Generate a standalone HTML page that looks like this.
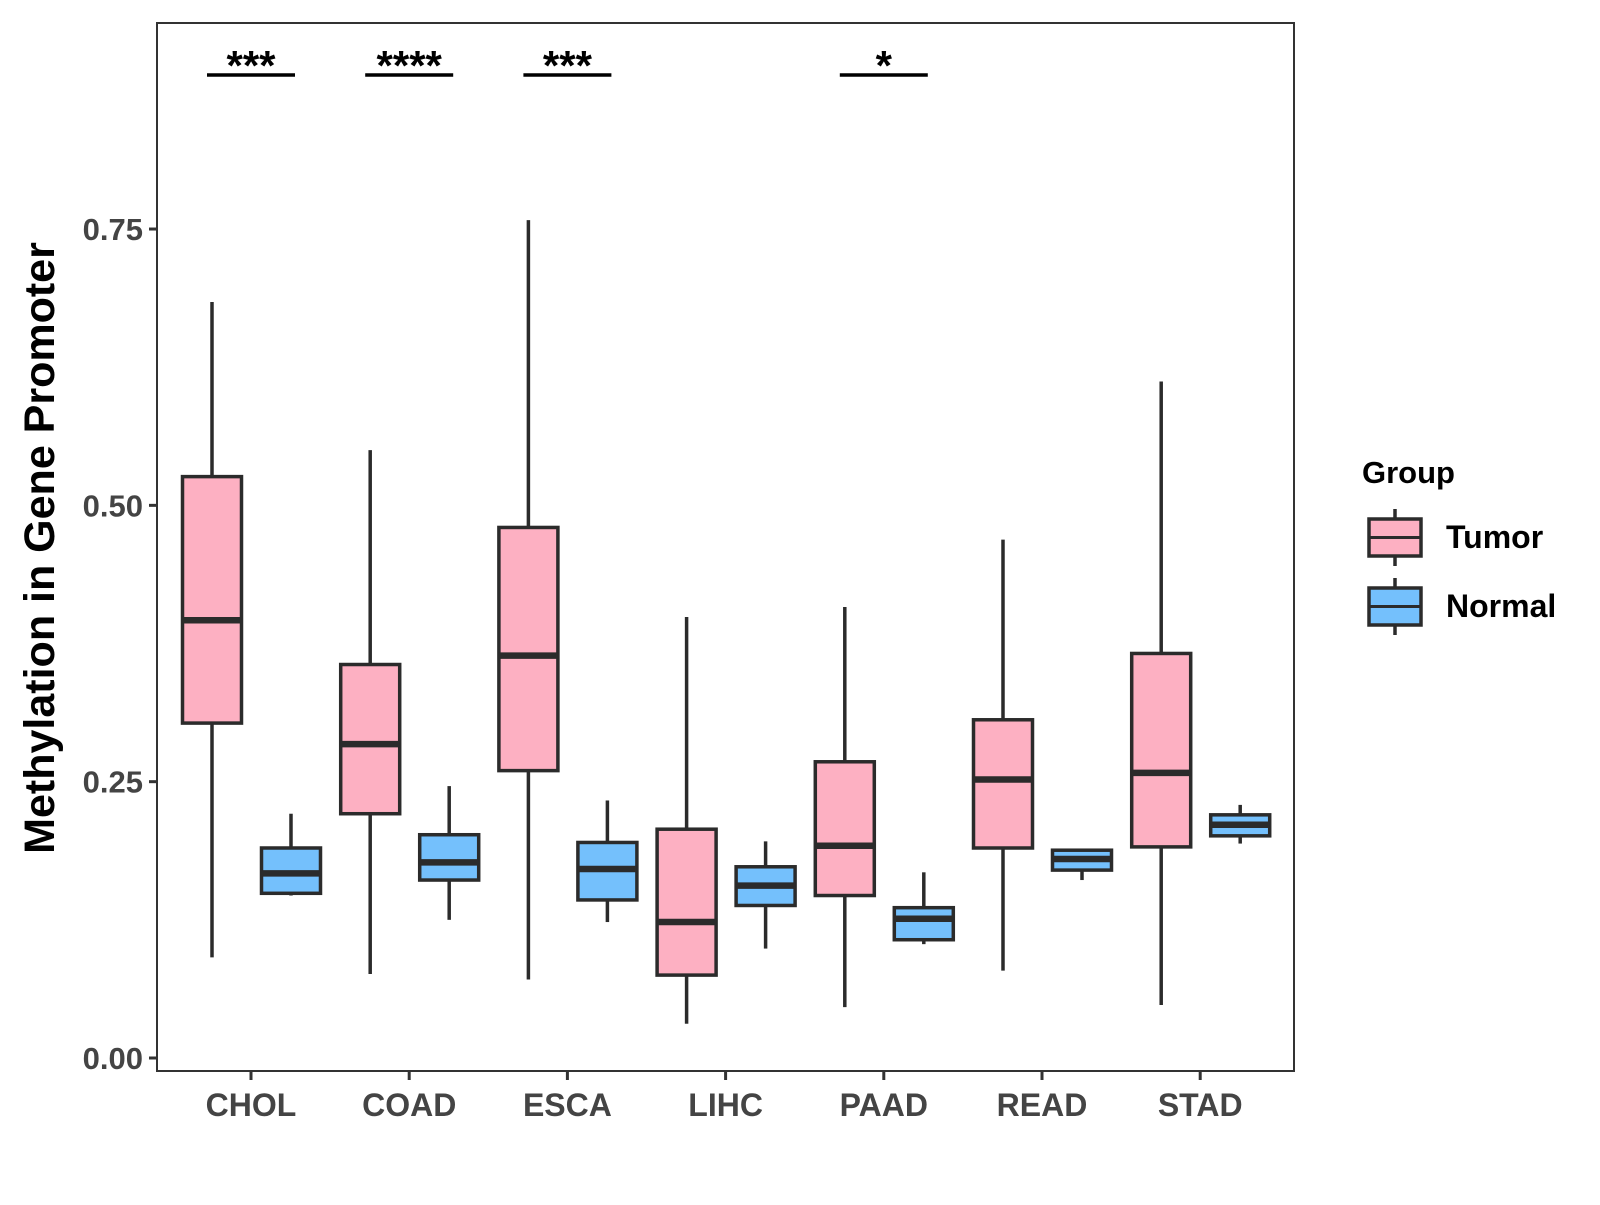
<!DOCTYPE html>
<html><head><meta charset="utf-8"><style>
body{margin:0;background:#fff;width:1600px;height:1200px;overflow:hidden}
svg{font-family:"Liberation Sans",sans-serif;font-weight:bold}
</style></head><body>
<svg id="chart" width="1600" height="1200"></svg>
<script>
const categories=["CHOL","COAD","ESCA","LIHC","PAAD","READ","STAD"];
// [low, q1, median, q3, high]
const tumorStats=[[0.091,0.303,0.396,0.526,0.684],[0.076,0.221,0.284,0.356,0.550],[0.071,0.260,0.364,0.480,0.758],[0.031,0.075,0.123,0.207,0.399],[0.046,0.147,0.192,0.268,0.408],[0.079,0.190,0.252,0.306,0.469],[0.048,0.191,0.258,0.366,0.612]];
const normalStats=[[0.147,0.149,0.167,0.190,0.221],[0.125,0.161,0.177,0.202,0.246],[0.123,0.143,0.171,0.195,0.233],[0.099,0.138,0.156,0.173,0.196],[0.103,0.107,0.126,0.136,0.168],[0.161,0.170,0.180,0.188,0.189],[0.194,0.201,0.211,0.220,0.229]];
const yTicks=[0,0.25,0.5,0.75];
const yTickLabels=["0.00","0.25","0.50","0.75"];
const sigCats=["CHOL","COAD","ESCA","PAAD"];
const sigLabels=["***","****","***","*"];

const NS="http://www.w3.org/2000/svg";
const svg=document.getElementById('chart');
const L=157,R=1294,T=23,B=1071;
const y=v=>1058-v*1105.3;
const x=i=>251+i*158.2;
function mk(t,a,p){const e=document.createElementNS(NS,t);for(const k in a)e.setAttribute(k,a[k]);(p||svg).appendChild(e);return e;}

const panel=mk('rect',{x:L,y:T,width:R-L,height:B-T,fill:'#fff',stroke:'#333',"stroke-width":2});



yTicks.forEach((v,i)=>{
  const tk=mk('line',{x1:L-8,x2:L,y1:y(v),y2:y(v),stroke:'#333',"stroke-width":3});
  
  
  const t=mk('text',{x:L-14,y:y(v)+11,"text-anchor":"end","font-size":31,fill:'#444'});
  t.textContent=yTickLabels[i];
  
  
});
categories.forEach((c,i)=>{
  const tk=mk('line',{x1:x(i),x2:x(i),y1:B,y2:B+9,stroke:'#333',"stroke-width":3});
  
  
  const t=mk('text',{x:x(i),y:1116,"text-anchor":"middle","font-size":32,fill:'#444'});
  t.textContent=c;
  
  
});
const yt=mk('text',{x:0,y:0,transform:"translate(54,548) rotate(-90)","text-anchor":"middle","font-size":43,fill:'#000'});
yt.textContent="Methylation in Gene Promoter";



function box(cx,s,fill,name){
  const g=mk('g',{});
  
  
  const w=59;
  mk('line',{x1:cx,x2:cx,y1:y(s[0]),y2:y(s[1]),stroke:'#2b2b2b',"stroke-width":3.5},g);
  mk('line',{x1:cx,x2:cx,y1:y(s[3]),y2:y(s[4]),stroke:'#2b2b2b',"stroke-width":3.5},g);
  mk('rect',{x:cx-w/2,y:y(s[3]),width:w,height:y(s[1])-y(s[3]),fill:fill,stroke:'#2b2b2b',"stroke-width":3.5},g);
  mk('line',{x1:cx-w/2,x2:cx+w/2,y1:y(s[2]),y2:y(s[2]),stroke:'#2b2b2b',"stroke-width":6.5},g);
}
categories.forEach((c,i)=>{
  box(x(i)-39,tumorStats[i],'#FDB0C2','box-tumor-'+c.toLowerCase());
  box(x(i)+40,normalStats[i],'#74C0FC','box-normal-'+c.toLowerCase());
});
sigCats.forEach((c,k)=>{
  const i=categories.indexOf(c);
  const l=mk('line',{x1:x(i)-44,x2:x(i)+44,y1:75,y2:75,stroke:'#000',"stroke-width":3.5});
  
  
  const t=mk('text',{x:x(i),y:80,"text-anchor":"middle","font-size":42,fill:'#000'});
  t.textContent=sigLabels[k];
  
  
});
// legend
const lg=mk('g',{});


const gt=mk('text',{x:1362,y:483,"font-size":31,fill:'#000'},lg);
gt.textContent="Group";
[["Tumor",'#FDB0C2',519],["Normal",'#74C0FC',588]].forEach(([lab,col,ty])=>{
  const e=mk('g',{},lg);
  
  
  mk('line',{x1:1395,x2:1395,y1:ty-10,y2:ty+47,stroke:'#2b2b2b',"stroke-width":3.5},e);
  mk('rect',{x:1369,y:ty,width:52,height:37,fill:col,stroke:'#2b2b2b',"stroke-width":3.5},e);
  mk('line',{x1:1369,x2:1421,y1:ty+18.5,y2:ty+18.5,stroke:'#2b2b2b',"stroke-width":3},e);
  const t=mk('text',{x:1446,y:ty+29,"font-size":32,fill:'#000'},e);
  t.textContent=lab;
});
</script>
</body></html>
